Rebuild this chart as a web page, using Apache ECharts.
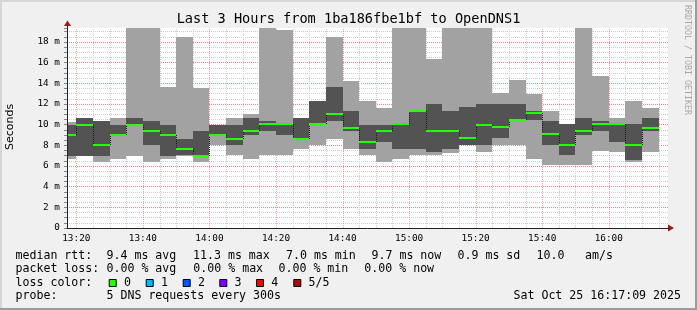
<!DOCTYPE html>
<html><head><meta charset="utf-8">
<script src="https://cdn.jsdelivr.net/npm/echarts@6/dist/echarts.min.js"></script>
<style>html,body{margin:0;padding:0;background:#f0f0f0}#c{width:697px;height:310px}</style>
</head><body><div id="c"></div>
<script>
// ---- data (5-minute bins, values in ms) ----
const binStarts = ['13:15','13:20','13:25','13:30','13:35','13:40','13:45','13:50','13:55',
  '14:00','14:05','14:10','14:15','14:20','14:25','14:30','14:35','14:40','14:45','14:50','14:55',
  '15:00','15:05','15:10','15:15','15:20','15:25','15:30','15:35','15:40','15:45','15:50','15:55',
  '16:00','16:05','16:10'];
const minRtt = [6.7,7.0,6.35,6.7,7.0,6.35,6.7,7.0,6.35,
  8.0,7.03,6.7,7.03,7.03,7.68,8.0,8.64,7.68,7.03,6.35,6.7,
  7.03,7.03,7.3,8.0,7.35,8.0,8.0,6.64,6.06,6.06,6.06,7.42,
  7.35,6.35,7.4];
const lowRtt = [7.0,7.0,7.0,9.0,9.9,8.0,7.0,7.03,6.9,
  8.95,8.0,9.03,9.4,9.03,8.55,9.95,10.39,9.35,7.68,8.35,7.68,
  7.68,7.35,7.68,8.0,8.0,8.7,10.35,10.45,8.0,7.03,9.03,9.35,
  8.37,6.62,9.35];
const medianRtt = [9.05,10.0,8.0,9.05,10.0,9.35,9.05,7.68,7.0,
  9.05,8.64,9.35,10.03,10.03,8.65,10.03,11.06,9.71,8.35,9.35,10.03,
  11.35,9.35,9.35,8.68,10.0,9.74,10.42,11.1,9.06,8.0,9.35,10.03,
  10.03,8.0,9.71];
const highRtt = [10.0,10.68,10.39,10.0,10.68,10.36,10.0,8.64,9.35,
  10.0,10.0,10.68,10.36,10.05,10.68,12.32,13.68,11.32,10.0,10.0,10.05,
  11.35,12.03,11.35,11.68,12.03,12.03,12.03,11.35,10.39,10.06,10.68,10.36,
  10.05,10.03,10.68];
const maxRtt = [10.3,10.68,10.39,10.68,19.4,19.4,13.68,18.45,13.58,
  10.0,10.68,11.06,19.4,19.2,10.68,12.32,18.45,14.26,12.32,11.64,19.4,
  19.4,16.32,19.4,19.4,19.4,13.07,14.36,13.0,11.35,10.06,19.4,14.68,
  10.68,12.32,11.64];
const xTickLabels = ['13:20','13:40','14:00','14:20','14:40','15:00','15:20','15:40','16:00'];
const lossLabels = ['0','1','2','3','4','5/5'];
const lossColors = ['#26ff00','#00b8ff','#0059ff','#7e00ff','#ff0000','#a01010'];

// ---- layout ----
const X_MIN = 797.2, X_MAX = 977.8, Y_MAX = 19.36;
const MONO = '"DejaVu Sans Mono", monospace';
const toMin = s => { const p = s.split(':').map(Number); return p[0]*60 + p[1]; };
const fmtMin = v => { const h = Math.floor(v/60), m = Math.round(v - h*60); return String(h).padStart(2,'0')+':'+String(m).padStart(2,'0'); };

const binData = binStarts.map((s,i) => [toMin(s), toMin(s)+5, minRtt[i], lowRtt[i], highRtt[i], maxRtt[i]]);
const medData = binStarts.map((s,i) => [toMin(s), toMin(s)+5, medianRtt[i], i>0 ? medianRtt[i-1] : medianRtt[i]]);
const vGrid = [];
binStarts.forEach(s => { if (toMin(s) > X_MIN) vGrid.push([toMin(s)]); });
vGrid.push([toMin(binStarts[binStarts.length-1]) + 5]);

function clip(r, cs) { return echarts.graphic.clipRectByRect(r, {x:cs.x, y:cs.y, width:cs.width, height:cs.height}); }

function renderSmoke(params, api) {
  const cs = params.coordSys;
  const x0 = Math.round(api.coord([api.value(0), 0])[0]);
  const x1 = Math.round(api.coord([api.value(1), 0])[0]);
  const yMin = Math.round(api.coord([0, api.value(2)])[1]);
  const yLow = Math.round(api.coord([0, api.value(3)])[1]);
  const yHigh = Math.round(api.coord([0, api.value(4)])[1]);
  const yMax = Math.round(api.coord([0, api.value(5)])[1]);
  const children = [];
  const o = clip({x:x0, y:yMax, width:x1-x0, height:yMin-yMax}, cs);
  if (o) children.push({type:'rect', shape:o, style:{fill:'#a2a2a2'}});
  const d = clip({x:x0, y:yHigh, width:x1-x0, height:Math.max(yLow-yHigh,0)}, cs);
  if (d) children.push({type:'rect', shape:d, style:{fill:'#535353'}});
  return {type:'group', children, silent:true};
}
function renderMedian(params, api) {
  const cs = params.coordSys;
  const x0 = Math.round(api.coord([api.value(0), 0])[0]);
  const x1 = Math.round(api.coord([api.value(1), 0])[0]);
  const ym = Math.round(api.coord([0, api.value(2)])[1]);
  const yp = Math.round(api.coord([0, api.value(3)])[1]);
  const children = [];
  if (params.dataIndex > 0 && yp !== ym) {
    children.push({type:'line', shape:{x1:x0+0.5, y1:yp, x2:x0+0.5, y2:ym},
      style:{stroke:'#1a1a1a', lineWidth:1, lineDash:[1,1]}});
  }
  const g = clip({x:x0, y:ym-1, width:x1-x0, height:2}, cs);
  if (g) children.push({type:'rect', shape:g, style:{fill:lossColors[0]}});
  return {type:'group', children, silent:true};
}
function renderVGrid(params, api) {
  const t = api.value(0);
  const p0 = api.coord([t, 0]), p1 = api.coord([t, Y_MAX]);
  const x = Math.round(p0[0]) + 0.5;
  const major = Math.round(t) % 20 === 0;
  return {type:'line', silent:true, shape:{x1:x, y1:p0[1], x2:x, y2:p1[1]},
    style:{stroke: major ? 'rgba(255,80,80,0.55)' : '#cdcdcd', lineWidth:1, lineDash:[1,1]}};
}

// ---- text decorations ----
const txt = (x, y, s, extra) => Object.assign({type:'text', x, y, silent:true,
  style:Object.assign({text:s, font:'11.6px '+MONO, fill:'#000', align:'left', verticalAlign:'middle'}, extra||{})});
const L1 = 255.5, L2 = 269, L3 = 282.8, L4 = 296.3;
const graphics = [
  {type:'rect', shape:{x:0,y:0,width:697,height:2}, style:{fill:'#d6d6d6'}, silent:true},
  {type:'rect', shape:{x:0,y:0,width:2,height:310}, style:{fill:'#d6d6d6'}, silent:true},
  {type:'rect', shape:{x:0,y:308,width:697,height:2}, style:{fill:'#9c9c9c'}, silent:true},
  {type:'rect', shape:{x:695,y:0,width:2,height:310}, style:{fill:'#9c9c9c'}, silent:true},
  txt(348.5, 19.5, 'Last 3 Hours from 1ba186fbe1bf to OpenDNS1', {font:'13.6px '+MONO, align:'center'}),
  {type:'text', x:10.5, y:127, rotation:Math.PI/2, silent:true,
    style:{text:'Seconds', font:'11px "DejaVu Sans", sans-serif', fill:'#000', align:'center', verticalAlign:'middle'}},
  {type:'text', x:687.5, y:60, rotation:-Math.PI/2, silent:true,
    style:{text:'RRDTOOL / TOBI OETIKER', font:'8.3px '+MONO, fill:'#a8a8a8', align:'center', verticalAlign:'middle'}},
  {type:'line', shape:{x1:67.5, y1:28, x2:67.5, y2:25}, style:{stroke:'#222', lineWidth:1}, silent:true},
  {type:'polygon', shape:{points:[[64,26],[71,26],[67.5,20.5]]}, style:{fill:'#9a1a1a'}, silent:true},
  {type:'polygon', shape:{points:[[668,224.5],[668,231.5],[674,228]]}, style:{fill:'#9a1a1a'}, silent:true},
  txt(15.5, L1, 'median rtt:'), txt(106.5, L1, '9.4 ms avg'), txt(193, L1, '11.3 ms max'),
  txt(286, L1, '7.0 ms min'), txt(371.5, L1, '9.7 ms now'), txt(457.5, L1, '0.9 ms sd'),
  txt(536.5, L1, '10.0'), txt(585, L1, 'am/s'),
  txt(15.5, L2, 'packet loss:'), txt(106.5, L2, '0.00 % avg'), txt(193.3, L2, '0.00 % max'),
  txt(278.5, L2, '0.00 % min'), txt(364.3, L2, '0.00 % now'),
  txt(15.5, L3, 'loss color:'),
  txt(15.5, L4, 'probe:'), txt(106.5, L4, '5 DNS requests every 300s'),
  txt(681, L4, 'Sat Oct 25 16:17:09 2025', {align:'right'})
];
const sqX = [108.7, 145.7, 182.7, 219.3, 256, 293.3];
lossLabels.forEach((lab, i) => {
  graphics.push({type:'rect', silent:true, shape:{x:sqX[i]+0.5, y:279.5, width:7, height:7},
    style:{fill:lossColors[i], stroke:'#000', lineWidth:1}});
  graphics.push(txt(sqX[i]+15.3, L3, lab));
});

const chart = echarts.init(document.getElementById('c'), null, {renderer:'canvas'});
chart.setOption({
  animation:false,
  backgroundColor:'#f0f0f0',
  grid:{left:67, top:28, width:601, height:200, show:true, backgroundColor:'#ffffff', borderWidth:0},
  xAxis:{type:'value', min:X_MIN, max:X_MAX, z:5,
    axisLine:{show:true, onZero:false, lineStyle:{color:'#222', width:1}},
    axisTick:{show:false},
    splitLine:{show:false},
    axisLabel:{customValues:xTickLabels.map(toMin), formatter:v => fmtMin(v), margin:6,
      color:'#000', fontFamily:'"DejaVu Sans Mono", monospace', fontSize:9.4}},
  yAxis:[
    {type:'value', min:0, max:Y_MAX, interval:0.5, position:'left', z:0,
      axisLine:{show:false}, axisLabel:{show:false},
      axisTick:{show:true, length:3, lineStyle:{color:'#888'}},
      splitLine:{show:true, showMinLine:false, showMaxLine:false, lineStyle:{color:'#cdcdcd', type:[1,1], width:1}}},
    {type:'value', min:0, max:Y_MAX, interval:2, position:'left', z:1,
      axisLine:{show:false}, axisLabel:{show:false}, axisTick:{show:false},
      splitLine:{show:true, showMinLine:false, showMaxLine:false, lineStyle:{color:'rgba(255,80,80,0.55)', type:[1,1], width:1}}},
    {type:'value', min:0, max:Y_MAX, interval:2, position:'left', z:5,
      axisLine:{show:true, lineStyle:{color:'#222', width:1}},
      axisTick:{show:false}, splitLine:{show:false},
      axisLabel:{showMaxLabel:false, margin:7, color:'#000', fontFamily:'"DejaVu Sans Mono", monospace', fontSize:9.4,
        formatter:v => v === 0 ? '0' : v + ' m'}}
  ],
  series:[
    {type:'custom', name:'grid', yAxisIndex:2, z:1, data:vGrid, renderItem:renderVGrid, clip:true, silent:true},
    {type:'custom', name:'smoke', yAxisIndex:2, z:2, data:binData, renderItem:renderSmoke, clip:true, silent:true},
    {type:'custom', name:'median', yAxisIndex:2, z:3, data:medData, renderItem:renderMedian, clip:true, silent:true}
  ],
  graphic:graphics
});
</script></body></html>
